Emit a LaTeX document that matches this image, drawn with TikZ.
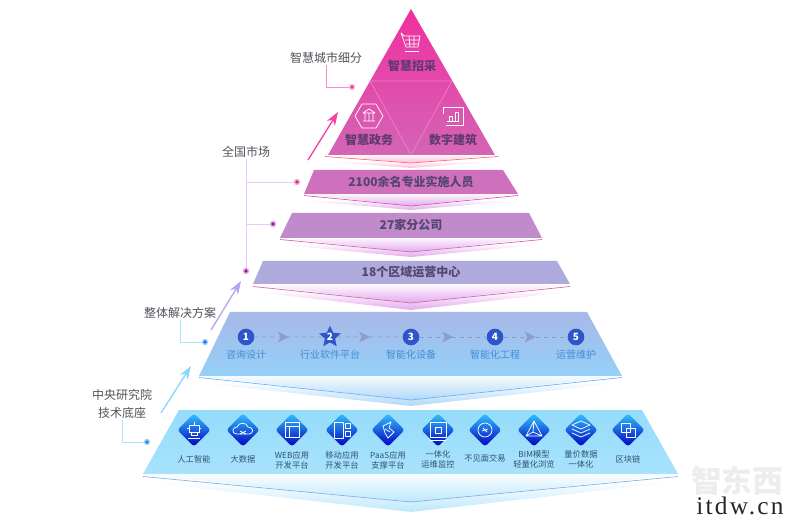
\documentclass[tikz,border=0pt]{standalone}
\usepackage{fontspec}
\setmainfont{Noto Sans CJK SC}
\newfontfamily\wmfont[LetterSpace=9]{Liberation Serif}
\usetikzlibrary{arrows.meta, shapes.geometric, decorations.markings}
\definecolor{darktext}{HTML}{55505A}
\definecolor{pyrtext}{HTML}{5E3A70}
\definecolor{bandtext}{HTML}{54466E}
\definecolor{steptext}{HTML}{3F8FD6}
\definecolor{stepblue}{HTML}{2F56C8}
\definecolor{stepdash}{HTML}{8F9CCB}
\definecolor{basetext}{HTML}{33536F}
\definecolor{foldpink}{HTML}{FFB8DC}
\definecolor{foldviolet}{HTML}{E4A8F0}
\definecolor{foldblue}{HTML}{B0D8F8}
\definecolor{foldcyan}{HTML}{BCE8FC}
\definecolor{bandone}{HTML}{CF70BD}
\definecolor{bandtwo}{HTML}{C08ACB}
\definecolor{bandthree}{HTML}{AEAADC}
\definecolor{bandfourtop}{HTML}{A8B8E8}
\definecolor{bandfourbot}{HTML}{94D0F8}
\definecolor{bandfivetop}{HTML}{95DCFB}
\definecolor{bandfivebot}{HTML}{A8E2FC}
\definecolor{pyrtop}{HTML}{F02FA0}
\definecolor{pyrbot}{HTML}{D465B5}
\definecolor{pyrline}{HTML}{F080C8}
\definecolor{marketline}{HTML}{E4CCF2}
\tikzset{
    >=Stealth,
    toplabel/.style={font=\fontsize{9}{9}\selectfont\bfseries, text=pyrtext, inner sep=0},
    bandlabel/.style={font=\fontsize{9}{9}\selectfont\bfseries, text=bandtext, inner sep=0},
    sidelabel/.style={font=\fontsize{9}{13}\selectfont, text=darktext, align=center, inner sep=1pt},
    leaderdot/.style={circle, fill=#1, draw=#1!35, line width=1.1pt, inner sep=0, minimum size=3.6pt},
    leader/.style={draw=#1, line width=.5pt},
    growarrow/.style={draw=#1, line width=1pt, -{Stealth[length=10pt, width=7pt, inset=3pt]}},
    stepcircle/.style={circle, fill=stepblue, text=white, inner sep=0, minimum size=12.5pt, font=\fontsize{7.5}{8}\selectfont\bfseries},
    stepstar/.style={star, star points=5, star point ratio=2.1, fill=stepblue, text=white, inner sep=0, minimum size=17pt, font=\fontsize{7.5}{8}\selectfont\bfseries},
    steplabel/.style={font=\fontsize{7.5}{8}\selectfont, text=steptext, inner sep=0},
    stepline/.style={dashed, line width=.7pt, draw=stepdash, postaction={decorate}, decoration={markings, mark=at position .5 with {\arrow[solid, fill=stepdash, draw=stepdash]{Stealth[length=8pt, width=8pt, inset=2pt]}}}},
    basebox/.style={diamond, shape aspect=1, inner sep=0, minimum size=25pt, rounded corners=2pt, top color=cyan!70!blue!80, bottom color=blue!75!black},
    baselabel/.style={font=\fontsize{6.2}{7.4}\selectfont, text=basetext, align=center, inner sep=0},
    iconline/.style={draw=white, line width=.55pt, line join=round},
}
\newcommand{\bandfold}[7]{
    \shade[top color=white, bottom color=#6] ({#1-7},{#3+6}) -- ({#2+7},{#3+6}) -- (411,#5) -- cycle;
    \shade[top color=#6!10, bottom color=#6] (#1,#3) -- (#2,#3) -- (411,#4) -- cycle;
    \draw[#7, line width=.5pt] (#1,{#3+1.5}) -- (411,#4) -- (#2,{#3+1.5});
}

\begin{document}
\begin{tikzpicture}[x=.75pt, y=-.75pt]
    \useasboundingbox (0,0) rectangle (800,520);
    \clip (0,0) rectangle (800,520);
    \node[font=\fontsize{23}{23}\selectfont\bfseries, text=black!7, inner sep=0] (wmbrand) at (737,481) {智东西};
    % folds under the layers
    \bandfold{325}{498}{155}{163}{168}{foldpink}{red!45!pink}
    \bandfold{304}{518}{194}{206}{210}{foldviolet}{magenta!55!violet!75}
    \bandfold{280}{542}{238}{252}{257}{foldviolet}{magenta!45!violet!70}
    \bandfold{253}{570}{285}{303}{310}{foldviolet}{magenta!45!violet!70}
    \bandfold{199}{622}{376}{400}{406}{foldblue}{blue!50!cyan!60}
    \bandfold{143}{678}{475}{502}{512}{foldcyan}{cyan!60!blue!50}
    % layers
    \shade[top color=pyrtop, bottom color=pyrbot] (411,9) -- (495,155) -- (328,155) -- cycle;
    \draw[draw=pyrline, line width=.5pt] (370,81) -- (452,81) -- (411,155) -- cycle;
    \fill[bandone] (314,170) -- (503,170) -- (518,194) -- (304,194) -- cycle;
    \fill[bandtwo] (292,213) -- (529,213) -- (542,238) -- (280,238) -- cycle;
    \fill[bandthree] (263,261) -- (557,261) -- (570,284) -- (253,284) -- cycle;
    \shade[top color=bandfourtop, bottom color=bandfourbot] (230,312) -- (587,312) -- (622,376) -- (199,376) -- cycle;
    \shade[top color=bandfivetop, bottom color=bandfivebot] (179,410) -- (642,410) -- (678,474) -- (143,474) -- cycle;
    % labels of the layers
    \node[toplabel] (procure) at (412,66) {智慧招采};
    \node[toplabel] (govern) at (369,140) {智慧政务};
    \node[toplabel] (digital) at (453,140) {数字建筑};
    \node[bandlabel] (staff) at (411,182) {2100余名专业实施人员};
    \node[bandlabel] (branches) at (411,225) {27家分公司};
    \node[bandlabel] (regions) at (411,272) {18个区域运营中心};
    % pictures on the pyramid
    \begin{scope}[shift={(411,43)}, iconline]
        \draw (-10,-10) -- (-7,-7) -- (9,-7) -- (7,4) -- (-5,4) -- cycle;
        \draw (-6,-3) -- (8,-3) (-5,1) -- (7,1) (-2,-7) -- (-1,4) (3,-7) -- (3,4);
        \draw (-6,8) -- (8,8);
    \end{scope}
    \begin{scope}[shift={(369,116)}, iconline]
        \draw (-14,0) -- (-7,-12) -- (7,-12) -- (14,0) -- (7,12) -- (-7,12) -- cycle;
        \draw (-6,-3) -- (0,-7) -- (6,-3) -- cycle (-4,-3) -- (-4,5) (0,-3) -- (0,5) (4,-3) -- (4,5) (-6,5) -- (6,5);
    \end{scope}
    \begin{scope}[shift={(453,116)}, iconline]
        \draw (-10,-2) -- (-10,-9) -- (10,-9) -- (10,9) -- (-7,9);
        \draw (-6,5) -- (6,5) (-4,5) -- (-4,0) -- (-1,0) -- (-1,5) (2,5) -- (2,-4) -- (5,-4) -- (5,5);
    \end{scope}
    % steps
    \node[stepcircle] (stepone) at (246,337) {1};
    \node[stepstar] (steptwo) at (330,337) {2};
    \node[stepcircle] (stepthree) at (411,337) {3};
    \node[stepcircle] (stepfour) at (495,337) {4};
    \node[stepcircle] (stepfive) at (576,337) {5};
    \draw[stepline] (stepone) -- (steptwo);
    \draw[stepline] (steptwo) -- (stepthree);
    \draw[stepline] (stepthree) -- (stepfour);
    \draw[stepline] (stepfour) -- (stepfive);
    \node[steplabel] (consult) at (246,355) {咨询设计};
    \node[steplabel] (software) at (330,355) {行业软件平台};
    \node[steplabel] (devices) at (411,355) {智能化设备};
    \node[steplabel] (works) at (495,355) {智能化工程};
    \node[steplabel] (operate) at (576,355) {运营维护};
    % base
    \node[basebox] (ai) at (194,430) {};
    \node[basebox] (bigdata) at (243,430) {};
    \node[basebox] (webapp) at (292,430) {};
    \node[basebox] (mobile) at (342,430) {};
    \node[basebox] (paas) at (388,430) {};
    \node[basebox] (ops) at (438,430) {};
    \node[basebox] (remote) at (485,430) {};
    \node[basebox] (bim) at (534,430) {};
    \node[basebox] (pricing) at (581,430) {};
    \node[basebox] (chain) at (628,430) {};
    \node[baselabel] (ailabel) at (194,459) {人工智能};
    \node[baselabel] (bigdatalabel) at (243,459) {大数据};
    \node[baselabel] (webapplabel) at (292,460) {WEB应用\\开发平台};
    \node[baselabel] (mobilelabel) at (342,460) {移动应用\\开发平台};
    \node[baselabel] (paaslabel) at (388,460) {PaaS应用\\支撑平台};
    \node[baselabel] (opslabel) at (438,459) {一体化\\运维监控};
    \node[baselabel] (remotelabel) at (485,458) {不见面交易};
    \node[baselabel] (bimlabel) at (534,459) {BIM模型\\轻量化浏览};
    \node[baselabel] (pricinglabel) at (581,459) {量价数据\\一体化};
    \node[baselabel] (chainlabel) at (628,459) {区块链};
    \begin{scope}[shift={(194,430)}, iconline]
        \draw (-5,-5) rectangle (5,2) (-7,-2) -- (-5,-2) (5,-2) -- (7,-2) (0,-5) -- (0,-8) (-3,2) -- (-3,5) -- (3,5) -- (3,2) (-6,8) -- (6,8);
    \end{scope}
    \begin{scope}[shift={(243,430)}, iconline]
        \draw (-6,4) .. controls (-12,4) and (-11,-3) .. (-6,-3) .. controls (-5,-8) and (4,-8) .. (5,-3) .. controls (11,-3) and (11,4) .. (6,4) -- cycle;
        \draw (-3,1) -- (3,4) (-3,4) -- (3,1);
    \end{scope}
    \begin{scope}[shift={(292,430)}, iconline]
        \draw (-7,-8) rectangle (7,7) (-7,-4) -- (7,-4) (-3,-4) -- (-3,7);
    \end{scope}
    \begin{scope}[shift={(342,430)}, iconline]
        \draw (-8,-8) rectangle (1,8);
        \draw (3,-7) rectangle (8,-2) (3,1) rectangle (8,6);
    \end{scope}
    \begin{scope}[shift={(388,430)}, iconline]
        \draw (-5,-4) -- (3,-8) -- (1,-2) -- (6,2) -- (0,8) -- (-3,3) -- cycle (-3,-1) -- (2,2);
    \end{scope}
    \begin{scope}[shift={(438,430)}, iconline]
        \draw (-8,-8) rectangle (8,7) (-3,-3) rectangle (3,3) (-8,10) -- (8,10);
    \end{scope}
    \begin{scope}[shift={(485,430)}, iconline]
        \draw (0,0) circle[radius=7] (-3,1) -- (3,-1) (-2,-2) -- (2,2);
    \end{scope}
    \begin{scope}[shift={(534,430)}, iconline]
        \draw (0,-9) -- (8,6) -- (-8,6) -- cycle (0,-9) -- (-1,2) -- (8,6) (-1,2) -- (-8,6);
    \end{scope}
    \begin{scope}[shift={(581,430)}, iconline]
        \draw (0,-9) -- (9,-5) -- (0,-1) -- (-9,-5) -- cycle (-9,-1) -- (0,3) -- (9,-1) (-9,3) -- (0,7) -- (9,3);
    \end{scope}
    \begin{scope}[shift={(628,430)}, iconline]
        \draw (-7,-7) rectangle (2,2) (-2,-2) rectangle (7,7);
    \end{scope}
    % side notes
    \node[sidelabel] (citynote) at (326,58) {智慧城市细分};
    \node[leaderdot=magenta!80!pink] (citydot) at (352,87) {};
    \draw[leader=magenta!45] (citynote.south) |- (citydot);
    \node[sidelabel] (marketnote) at (246,152) {全国市场};
    \node[leaderdot=violet!75!magenta] (marketdot) at (246,271) {};
    \node[leaderdot=magenta!65!violet] (staffdot) at (297,182) {};
    \node[leaderdot=violet!75!magenta] (branchdot) at (273,224) {};
    \coordinate (staffbranch) at (246,182);
    \coordinate (branchbranch) at (246,224);
    \draw[leader=marketline] (marketnote.south) -- (marketdot);
    \draw[leader=marketline] (staffbranch) -- (staffdot);
    \draw[leader=marketline] (branchbranch) -- (branchdot);
    \node[sidelabel] (solutionnote) at (180,313) {整体解决方案};
    \node[leaderdot=blue!60!cyan] (solutiondot) at (205,342) {};
    \draw[leader=blue!30!cyan!35] (solutionnote.south) |- (solutiondot);
    \node[sidelabel] (basenote) at (122,404) {中央研究院\\技术底座};
    \node[leaderdot=cyan!70!blue] (basedot) at (147,442) {};
    \draw[leader=cyan!35] (basenote.south) |- (basedot);
    % arrows between the stages
    \coordinate (cityfrom) at (308,160);
    \coordinate (cityto) at (338,112);
    \coordinate (marketfrom) at (211,330);
    \coordinate (marketto) at (241,281);
    \coordinate (solutionfrom) at (161,413);
    \coordinate (solutionto) at (191,366);
    \draw[growarrow=magenta!65!pink] (cityfrom) -- (cityto);
    \draw[growarrow=violet!35!blue!35] (marketfrom) -- (marketto);
    \draw[growarrow=blue!35!cyan!45] (solutionfrom) -- (solutionto);
    % site mark
    \node[font=\fontsize{19}{19}\wmfont, text=black!85, anchor=base west, inner sep=0] (wmsite) at (696,514) {itdw.cn};
\end{tikzpicture}
\end{document}
